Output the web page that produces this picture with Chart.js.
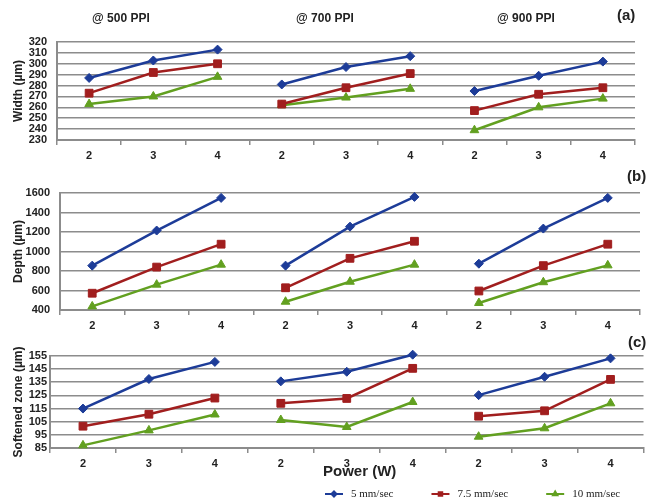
<!DOCTYPE html>
<html>
<head>
<meta charset="utf-8">
<script src="https://cdn.jsdelivr.net/npm/chart.js@4/dist/chart.umd.min.js"></script>
<style>
  html, body { margin: 0; padding: 0; background: #fff; }
  body { width: 650px; height: 504px; position: relative; overflow: hidden; font-family: 'Liberation Sans', sans-serif; }
  .panel { position: absolute; left: 0; width: 650px; }
  .lbl { position: absolute; font-weight: bold; color: #222; white-space: nowrap; }
  .grp { font-size: 12px; top: 11px; }
  .tag { font-size: 15px; }
</style>
</head>
<body>
<div class="panel" style="top:0;height:170px"><canvas id="widthChart"></canvas></div>
<div class="panel" style="top:165px;height:170px"><canvas id="depthChart"></canvas></div>
<div class="panel" style="top:335px;height:169px"><canvas id="softChart"></canvas></div>

<div class="lbl grp" style="left:92px">@ 500 PPI</div>
<div class="lbl grp" style="left:296px">@ 700 PPI</div>
<div class="lbl grp" style="left:497px">@ 900 PPI</div>
<div class="lbl tag" style="left:617px;top:6px">(a)</div>
<div class="lbl tag" style="left:627px;top:167px">(b)</div>
<div class="lbl tag" style="left:628px;top:333px">(c)</div>
<div class="lbl" style="left:323px;top:462px;font-size:15px">Power (W)</div>

<script>
// --- Data ---
const powerLabels = ['2', '3', '4', '2', '3', '4', '2', '3', '4'];
const ppiGroups = ['@ 500 PPI', '@ 700 PPI', '@ 900 PPI'];
const speeds = ['5 mm/sec', '7.5 mm/sec', '10 mm/sec'];

// (a) width, um  -- 500 / 700 / 900 PPI
const width5 = [287, 303, 313, 281, 297, 307, 275, 289, 302];
const width75 = [273, 292, 300, 263, 278, 291, 257, 272, 278];
const width10 = [263, 270, 288, 262, 269, 277, 239, 260, 268];

// (b) depth, um
const depth5 = [855, 1215, 1550, 855, 1255, 1560, 875, 1235, 1550];
const depth75 = [572, 840, 1075, 628, 930, 1105, 595, 855, 1075];
const depth10 = [437, 660, 865, 485, 690, 865, 472, 685, 858];

// (c) softened zone, um
const soft5 = [115, 137.5, 150.5, 135.7, 143, 156, 125.2, 139.2, 153.2];
const soft75 = [101.6, 110.7, 123, 119, 122.7, 145.6, 109.2, 113.3, 137.2];
const soft10 = [87, 98.4, 110.5, 106.3, 101, 120, 93.6, 100, 119];

const colors = {
  blue: '#1d3c98',
  red: '#a11e1e',
  green: '#62a020',
  grid: '#8c8c8c',
  text: '#222',
};
const seriesStyle = [
  { color: colors.blue, pointStyle: 'rectRot', radius: 4.5 },
  { color: colors.red, pointStyle: 'rect', radius: 5.5 },
  { color: colors.green, pointStyle: 'triangle', radius: 5 },
];

Chart.defaults.font.family = "'Liberation Sans', sans-serif";
Chart.defaults.color = colors.text;

// one dataset per speed per PPI group so the lines break between groups
function buildDatasets(seriesList) {
  const sets = [];
  seriesList.forEach((values, s) => {
    ppiGroups.forEach((g, gi) => {
      sets.push({
        label: speeds[s],
        data: values.map((v, i) => Math.floor(i / 3) === gi ? v : null),
        borderColor: seriesStyle[s].color,
        backgroundColor: seriesStyle[s].color,
        pointStyle: seriesStyle[s].pointStyle,
        pointRadius: seriesStyle[s].radius,
        pointBorderWidth: 1,
        borderWidth: 2.5,
        tension: 0,
        spanGaps: false,
        clip: false,
      });
    });
  });
  return sets;
}

// Excel-like legend: short line with marker + serif text
const lineLegend = {
  id: 'lineLegend',
  afterDraw(chart, args, opts) {
    if (!opts.show) return;
    const ctx = chart.ctx;
    ctx.save();
    ctx.font = "11px 'Liberation Serif', serif";
    ctx.textBaseline = 'middle';
    let x = opts.x;
    const y = opts.y;
    speeds.forEach((name, s) => {
      const st = seriesStyle[s];
      ctx.strokeStyle = st.color;
      ctx.lineWidth = 2;
      ctx.beginPath();
      ctx.moveTo(x, y);
      ctx.lineTo(x + 18, y);
      ctx.stroke();
      ctx.fillStyle = st.color;
      Chart.helpers.drawPoint(ctx, { pointStyle: st.pointStyle, radius: 2.5, borderWidth: 1 }, x + 9, y);
      ctx.fillStyle = colors.text;
      ctx.fillText(name, x + 26, y);
      x += 26 + ctx.measureText(name).width + opts.gap;
    });
    ctx.restore();
  }
};

function makePanel(id, seriesList, yTitle, yMin, yMax, step, lay) {
  new Chart(document.getElementById(id), {
    type: 'line',
    data: { labels: powerLabels, datasets: buildDatasets(seriesList) },
    plugins: [lineLegend],
    options: {
      responsive: true,
      maintainAspectRatio: false,
      animation: false,
      layout: { padding: { top: lay.top, right: lay.right, bottom: lay.bottom, left: 0 } },
      plugins: {
        legend: { display: false },
        tooltip: { enabled: false },
        lineLegend: lay.legend || { show: false },
      },
      scales: {
        x: {
          offset: true,
          grid: { display: true, drawOnChartArea: false, offset: true, tickLength: 5, color: colors.grid, lineWidth: 1.5 },
          border: { display: true, color: colors.grid, width: 2 },
          ticks: { font: { size: 11, weight: 'bold' }, padding: 4, maxRotation: 0, autoSkip: false },
          afterFit: s => { s.height = lay.xh; },
        },
        y: {
          min: yMin,
          max: yMax,
          grid: { color: colors.grid, lineWidth: 1.6, drawTicks: false },
          border: { display: true, color: colors.grid, width: 2 },
          ticks: {
            stepSize: step,
            autoSkip: false,
            font: { size: 11, weight: 'bold' },
            padding: lay.tickPad,
            callback: v => String(v),
          },
          title: { display: true, text: yTitle, font: { size: 12, weight: 'bold' }, padding: { top: 11, bottom: 0 } },
          afterFit: s => { s.width = lay.yw; },
        }
      }
    }
  });
}

makePanel('widthChart', [width5, width75, width10], 'Width (µm)', 230, 320, 10,
  { top: 42, right: 15, bottom: 5, xh: 25, yw: 57, tickPad: 10 });
makePanel('depthChart', [depth5, depth75, depth10], 'Depth (µm)', 400, 1600, 200,
  { top: 28, right: 10, bottom: 0, xh: 25, yw: 60, tickPad: 10 });
makePanel('softChart', [soft5, soft75, soft10], 'Softened zone (µm)', 85, 155, 10,
  { top: 21, right: 5, bottom: 24, xh: 32, yw: 50, tickPad: 3,
    legend: { show: true, x: 325, y: 159, gap: 38 } });
</script>
</body>
</html>
